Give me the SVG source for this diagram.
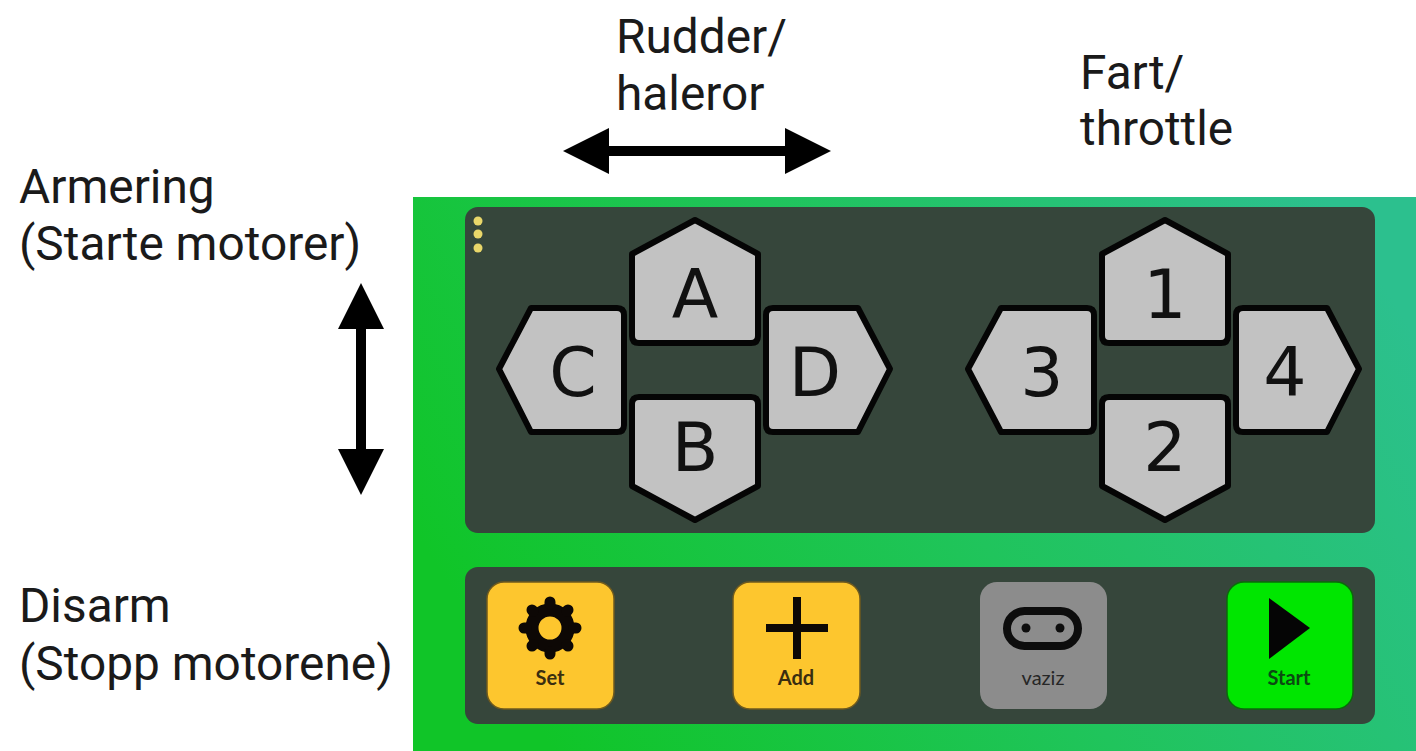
<svg xmlns="http://www.w3.org/2000/svg" width="1416" height="751" viewBox="0 0 1416 751">
<style>
.lbl{font-family:Roboto,"Liberation Sans",sans-serif;font-size:47.8px;fill:#1a1a1a}
.pad{fill:#c2c2c2;stroke:#050505;stroke-width:6;stroke-linejoin:round}
.key{font-family:"DejaVu Sans","Liberation Sans",sans-serif;font-size:68px;fill:#111;text-anchor:middle}
.cap{font-family:Lato,"Liberation Sans",sans-serif;font-size:20px;font-weight:700;text-anchor:middle;fill:#3a2e10}
.panel{fill:#36463b}
.btn{stroke-width:1.5}
.shaft{stroke:#000;stroke-width:10;fill:none}
</style>
<defs>
<linearGradient id="bg" x1="0" y1="0.6" x2="1" y2="0.25">
<stop offset="0" stop-color="#10c528"/>
<stop offset="0.5" stop-color="#20c45c"/>
<stop offset="1" stop-color="#2cc08e"/>
</linearGradient>
<marker id="ah" markerUnits="userSpaceOnUse" markerWidth="46" markerHeight="46" refX="35" refY="23" orient="auto-start-reverse" viewBox="0 0 46 46">
<path d="M0 0L46 23L0 46Z" fill="#000"/>
</marker>
</defs>
<rect width="1416" height="751" fill="#fff"/>
<rect x="413" y="197" width="1003" height="554" fill="url(#bg)"/>
<rect class="panel" x="465" y="207" width="910" height="326" rx="13"/>
<rect class="panel" x="465" y="567" width="910" height="157" rx="13"/>
<g id="menu-dots" fill="#e9d76a">
<circle cx="478" cy="221" r="4.5"/><circle cx="478" cy="234" r="4.5"/><circle cx="478" cy="248" r="4.5"/>
</g>
<g id="connectors">
<path id="arrow-rudder" class="shaft" d="M574 151H820" marker-start="url(#ah)" marker-end="url(#ah)"/>
<path id="arrow-arm" class="shaft" d="M361 294V484" marker-start="url(#ah)" marker-end="url(#ah)"/>
</g>
<g id="label-rudder"><text class="lbl" x="616" y="53">Rudder/</text><text class="lbl" x="616" y="110">haleror</text></g>
<g id="label-fart"><text class="lbl" x="1080" y="89">Fart/</text><text class="lbl" x="1080" y="145">throttle</text></g>
<g id="label-arm"><text class="lbl" x="19" y="203">Armering</text><text class="lbl" x="19" y="260">(Starte motorer)</text></g>
<g id="label-disarm"><text class="lbl" x="19" y="622">Disarm</text><text class="lbl" x="19" y="680">(Stopp motorene)</text></g>
<g id="btn-c"><path class="pad" d="M531 308H617Q624 308 624 315V425Q624 432 617 432H531L499 369Z"/><text class="key" x="573" y="396">C</text></g>
<g id="btn-d"><path class="pad" d="M858 308H773Q766 308 766 315V425Q766 432 773 432H858L890 369Z"/><text class="key" x="815" y="396">D</text></g>
<g id="btn-a"><path class="pad" d="M695 220L758 254V336Q758 343 751 343H639Q632 343 632 336V254Z"/><text class="key" x="695" y="318">A</text></g>
<g id="btn-b"><path class="pad" d="M639 397H751Q758 397 758 404V486L695 520L632 486V404Q632 397 639 397Z"/><text class="key" x="695" y="471">B</text></g>
<g id="btn-3"><path class="pad" d="M1001 308H1087Q1094 308 1094 315V425Q1094 432 1087 432H1001L968 369Z"/><text class="key" x="1042" y="396">3</text></g>
<g id="btn-4"><path class="pad" d="M1327 308H1243Q1236 308 1236 315V425Q1236 432 1243 432H1327L1359 369Z"/><text class="key" x="1285" y="396">4</text></g>
<g id="btn-1"><path class="pad" d="M1165 220L1228 254V336Q1228 343 1221 343H1109Q1102 343 1102 336V254Z"/><text class="key" x="1165" y="318">1</text></g>
<g id="btn-2"><path class="pad" d="M1109 397H1221Q1228 397 1228 404V486L1165 520L1102 486V404Q1102 397 1109 397Z"/><text class="key" x="1165" y="471">2</text></g>
<g id="btn-set">
<rect class="btn" x="487" y="582" width="127" height="127" rx="17" fill="#fdc62e" stroke="#6f5a1e"/>
<g fill="none" stroke="#0d0805">
<circle cx="550" cy="628" r="18" stroke-width="13"/>
<path stroke-width="11" stroke-linecap="round" d="M550 602V604M550 652V654M524 628H526M574 628H576M532 610L533 611M567 645L568 646M568 610L567 611M533 645L532 646"/>
</g>
<text class="cap" x="550" y="685">Set</text>
</g>
<g id="btn-add">
<rect class="btn" x="733" y="582" width="127" height="127" rx="17" fill="#fdc62e" stroke="#6f5a1e"/>
<path d="M797 597V659M766 628H828" stroke="#0d0805" stroke-width="8" fill="none"/>
<text class="cap" x="796" y="685">Add</text>
</g>
<g id="btn-vaziz">
<rect x="980" y="582" width="127" height="127" rx="17" fill="#8c8c8c"/>
<rect x="1007" y="611" width="71" height="35" rx="17.5" fill="none" stroke="#0d0d0d" stroke-width="8"/>
<circle cx="1026" cy="628" r="4.5" fill="#0d0d0d"/><circle cx="1060" cy="628" r="4.5" fill="#0d0d0d"/>
<text class="cap" x="1043" y="685" style="fill:#262626;font-weight:400">vaziz</text>
</g>
<g id="btn-start">
<rect class="btn" x="1227" y="582" width="126" height="127" rx="17" fill="#00e600" stroke="#0a6b0a"/>
<path d="M1269 598L1310 628L1269 659Z" fill="#050505"/>
<text class="cap" x="1289" y="685" style="fill:#0b4a12">Start</text>
</g>
</svg>
